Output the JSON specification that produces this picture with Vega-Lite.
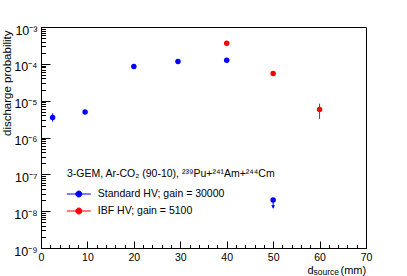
{
  "$schema": "https://vega.github.io/schema/vega-lite/v6.json",
  "width": 325,
  "height": 221,
  "autosize": "none",
  "padding": {"left": 41, "top": 27, "right": 41, "bottom": 28},
  "background": "white",
  "config": {
    "font": "Liberation Sans",
    "view": {"stroke": "black", "strokeWidth": 1},
    "axis": {"grid": false, "domainColor": "black", "tickColor": "black", "labelColor": "black", "titleColor": "black", "titleFontWeight": "normal", "labelFont": "Liberation Sans", "titleFont": "Liberation Sans"}
  },
  "datasets": {
    "pts": [
      {"series": "Standard HV; gain = 30000", "d": 2.5, "p": 3.5e-6, "lo": 2.7e-6, "hi": 4.5e-6},
      {"series": "Standard HV; gain = 30000", "d": 9.5, "p": 4.9e-6, "lo": 4.5e-6, "hi": 5.3e-6},
      {"series": "Standard HV; gain = 30000", "d": 20, "p": 8.5e-5, "lo": 7.8e-5, "hi": 9.3e-5},
      {"series": "Standard HV; gain = 30000", "d": 29.5, "p": 1.15e-4, "lo": 1.07e-4, "hi": 1.23e-4},
      {"series": "Standard HV; gain = 30000", "d": 40, "p": 1.25e-4, "lo": 1.17e-4, "hi": 1.33e-4},
      {"series": "Standard HV; gain = 30000", "d": 50, "p": 2.0e-8, "lo": 2.0e-8, "hi": 2.0e-8},
      {"series": "IBF HV; gain = 5100", "d": 40, "p": 3.6e-4, "lo": 3.4e-4, "hi": 3.8e-4},
      {"series": "IBF HV; gain = 5100", "d": 50, "p": 5.5e-5, "lo": 4.8e-5, "hi": 6.2e-5},
      {"series": "IBF HV; gain = 5100", "d": 60, "p": 5.8e-6, "lo": 3.2e-6, "hi": 8.3e-6}
    ],
    "limits": [
      {"series": "Standard HV; gain = 30000", "d": 50, "p": 2.0e-8, "tip": 1.2e-8, "head": 1.3e-8}
    ]
  },
  "resolve": {"axis": {"x": "independent", "y": "independent"}},
  "layer": [
    {
      "data": {"name": "pts"},
      "encoding": {
        "x": {
          "field": "d", "type": "quantitative",
          "scale": {"domain": [0, 70], "nice": false, "zero": false},
          "axis": {
            "orient": "bottom",
            "values": [0, 10, 20, 30, 40, 50, 60, 70],
            "tickSize": -7,
            "labelFontSize": 10.5,
            "labelPadding": 11,
            "labelFlush": false,
            "labelOverlap": false,
            "title": "d",
            "titleFontSize": 11,
            "titleAlign": "left",
            "titleBaseline": "alphabetic",
            "titleAnchor": "start",
            "titleX": 266,
            "titleY": 25
          }
        },
        "y": {
          "field": "p", "type": "quantitative",
          "scale": {"type": "log", "domain": [1e-9, 1e-3], "nice": false},
          "axis": {
            "orient": "left",
            "values": [1e-9, 1e-8, 1e-7, 1e-6, 1e-5, 1e-4, 1e-3],
            "tickSize": -9,
            "labelExpr": "round(log(datum.value)/LN10) == -3 ? '10⁻³' : round(log(datum.value)/LN10) == -4 ? '10⁻⁴' : round(log(datum.value)/LN10) == -5 ? '10⁻⁵' : round(log(datum.value)/LN10) == -6 ? '10⁻⁶' : round(log(datum.value)/LN10) == -7 ? '10⁻⁷' : round(log(datum.value)/LN10) == -8 ? '10⁻⁸' : '10⁻⁹'",
            "labelFontSize": 12.5,
            "labelPadding": 13,
            "labelOffset": 3,
            "labelFlush": false,
            "labelOverlap": false,
            "title": "discharge probability",
            "titleFontSize": 11.5,
            "titleAngle": -90,
            "titleAlign": "right",
            "titleBaseline": "middle",
            "titleX": -34,
            "titleY": 3
          }
        },
        "color": {
          "field": "series", "type": "nominal",
          "scale": {"domain": ["Standard HV; gain = 30000", "IBF HV; gain = 5100"], "range": ["#0000ff", "#ff0000"]},
          "legend": {
            "orient": "none",
            "legendX": 26,
            "legendY": 142,
            "title": "3-GEM, Ar-CO₂ (90-10), ²³⁹Pu+²⁴¹Am+²⁴⁴Cm",
            "titleLimit": 400,
            "titleFontSize": 10.5,
            "titleFontWeight": "normal",
            "titleColor": "black",
            "titlePadding": 8,
            "labelFontSize": 10.5,
            "labelColor": "black",
            "labelLimit": 300,
            "labelOffset": 12.5,
            "symbolOffset": 5.3,
            "rowPadding": 5,
            "symbolType": "M-2,0H2M0.5,0A0.5,0.5 0 1,1 -0.5,0A0.5,0.5 0 1,1 0.5,0Z",
            "symbolSize": 144,
            "symbolStrokeWidth": 1,
            "symbolOpacity": 1,
            "encode": {"symbols": {"update": {"stroke": {"field": "value", "scale": "color"}, "fill": {"field": "value", "scale": "color"}}}}
          }
        }
      },
      "layer": [
        {
          "mark": {"type": "rule", "strokeWidth": 1},
          "encoding": {
            "y": {"field": "lo", "type": "quantitative"},
            "y2": {"field": "hi"}
          }
        },
        {
          "mark": {"type": "point", "filled": true, "opacity": 1, "size": 30, "shape": "circle"}
        }
      ]
    },
    {
      "data": {"name": "limits"},
      "mark": {"type": "rule", "strokeWidth": 1, "color": "#0000ff"},
      "encoding": {
        "x": {
          "field": "d", "type": "quantitative",
          "axis": {"orient": "bottom", "domain": false, "ticks": true, "tickSize": -3.5, "labels": false, "values": [2,4,6,8,12,14,16,18,22,24,26,28,32,34,36,38,42,44,46,48,52,54,56,58,62,64,66,68], "title": "source", "titleFontSize": 8.5, "titleAlign": "left", "titleBaseline": "alphabetic", "titleAnchor": "start", "titleX": 272, "titleY": 26}
        },
        "y": {
          "field": "p", "type": "quantitative",
          "axis": {"orient": "left", "domain": false, "ticks": true, "tickSize": -4.5, "labels": false, "title": null, "values": [2e-9,3e-9,4e-9,5e-9,6e-9,7e-9,8e-9,9e-9,2e-8,3e-8,4e-8,5e-8,6e-8,7e-8,8e-8,9e-8,2e-7,3e-7,4e-7,5e-7,6e-7,7e-7,8e-7,9e-7,2e-6,3e-6,4e-6,5e-6,6e-6,7e-6,8e-6,9e-6,2e-5,3e-5,4e-5,5e-5,6e-5,7e-5,8e-5,9e-5,2e-4,3e-4,4e-4,5e-4,6e-4,7e-4,8e-4,9e-4]}
        },
        "y2": {"field": "tip"}
      }
    },
    {
      "data": {"name": "limits"},
      "mark": {"type": "point", "shape": "triangle-down", "filled": true, "opacity": 1, "size": 14, "color": "#0000ff"},
      "encoding": {
        "x": {
          "field": "d", "type": "quantitative",
          "axis": {"orient": "bottom", "domain": false, "ticks": false, "labels": false, "title": "(mm)", "titleFontSize": 11, "titleAlign": "left", "titleBaseline": "alphabetic", "titleAnchor": "start", "titleX": 299, "titleY": 25}
        },
        "y": {"field": "head", "type": "quantitative", "axis": null}
      }
    }
  ]
}
